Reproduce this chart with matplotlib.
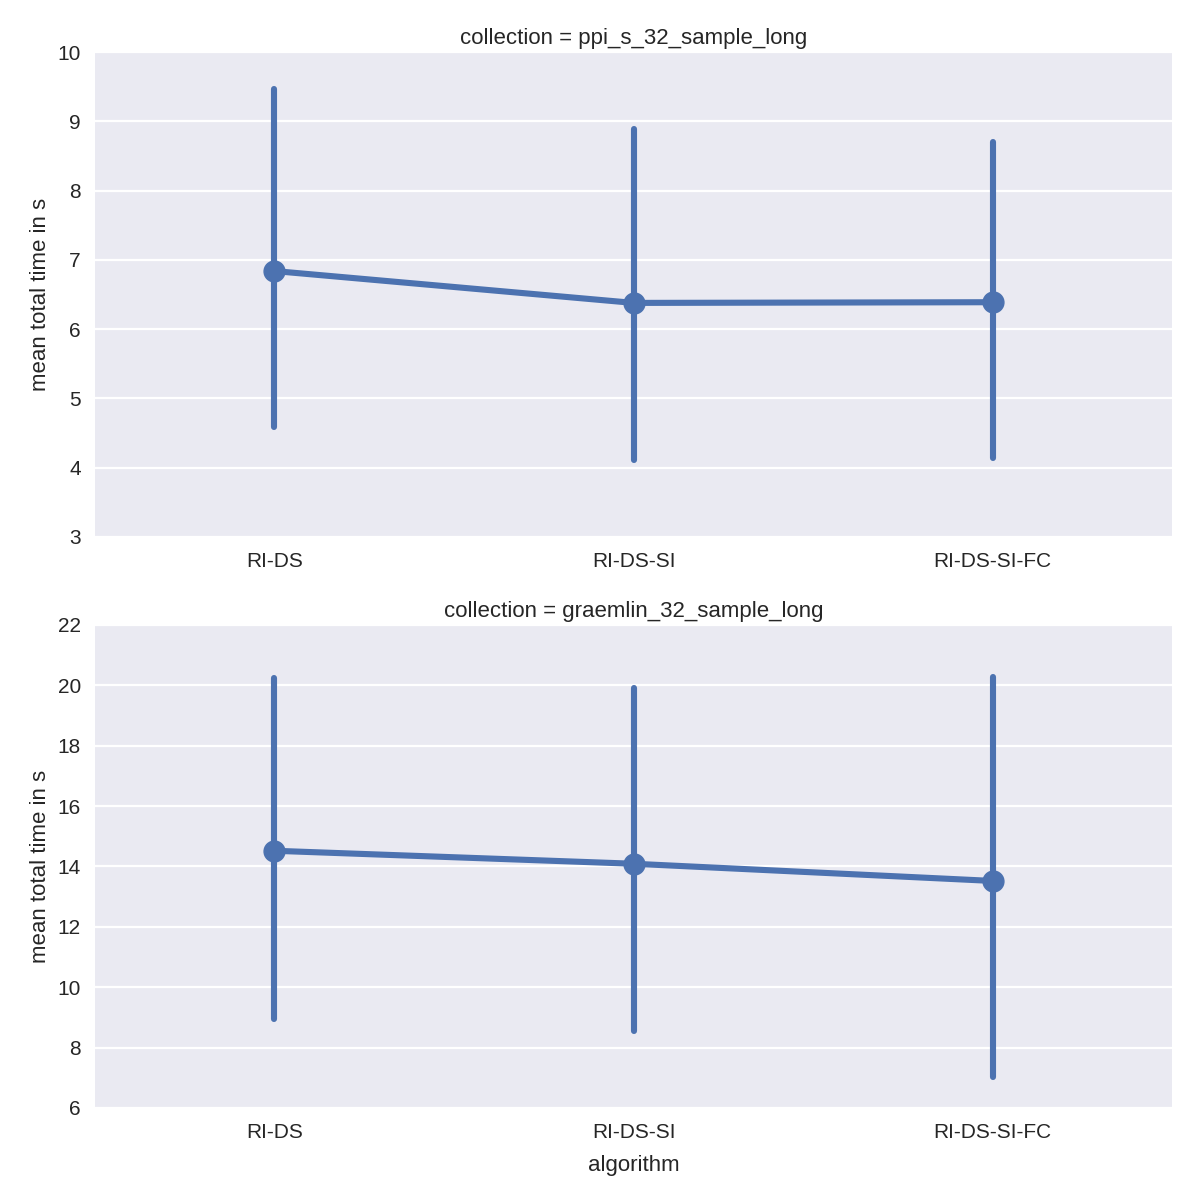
import matplotlib
matplotlib.use("Agg")
import matplotlib.pyplot as plt

algorithms = ["RI-DS", "RI-DS-SI", "RI-DS-SI-FC"]

ppi_title = "collection = ppi_s_32_sample_long"
ppi_mean = [6.84, 6.38, 6.39]
ppi_low = [4.59, 4.11, 4.14]
ppi_high = [9.47, 8.89, 8.71]
ppi_yticks = [3, 4, 5, 6, 7, 8, 9, 10]

gra_title = "collection = graemlin_32_sample_long"
gra_mean = [14.52, 14.09, 13.52]
gra_low = [8.95, 8.56, 7.03]
gra_high = [20.23, 19.91, 20.28]
gra_yticks = [6, 8, 10, 12, 14, 16, 18, 20, 22]

color = "#4C72B0"
plt.rcParams["font.family"] = ["Liberation Sans", "DejaVu Sans"]
plt.rcParams["text.color"] = "#262626"

fig = plt.figure(figsize=(12, 12), dpi=100)
ax1 = fig.add_axes([0.079, 0.5525, 0.898, 0.404])
ax2 = fig.add_axes([0.079, 0.0767, 0.898, 0.4025])

def draw(ax, title, mean, low, high, yticks, xlabel):
    ax.set_facecolor("#EAEAF2")
    for s in ax.spines.values():
        s.set_visible(False)
    ax.set_axisbelow(True)
    ax.yaxis.grid(True, color="white", linewidth=1.6)
    ax.xaxis.grid(False)
    xs = list(range(len(algorithms)))
    for x, lo, hi in zip(xs, low, high):
        ax.plot([x, x], [lo, hi], color=color, lw=4.4, solid_capstyle="round", zorder=2)
    ax.plot(xs, mean, color=color, lw=4.4, marker="o", markersize=15,
            solid_capstyle="round", zorder=3)
    ax.set_xlim(-0.5, len(algorithms) - 0.5)
    ax.set_ylim(yticks[0], yticks[-1])
    ax.set_yticks(yticks)
    ax.set_xticks(xs)
    ax.set_xticklabels(algorithms)
    ax.tick_params(axis="both", length=0, labelsize=15, colors="#262626")
    ax.tick_params(axis="y", pad=10)
    ax.tick_params(axis="x", pad=11)
    ax.set_ylabel("mean total time in s", fontsize=16, labelpad=5, color="#262626")
    if xlabel:
        ax.set_xlabel(xlabel, fontsize=16, color="#262626", labelpad=9)
    ax.set_title(title, fontsize=16, color="#262626", pad=6)

draw(ax1, ppi_title, ppi_mean, ppi_low, ppi_high, ppi_yticks, None)
draw(ax2, gra_title, gra_mean, gra_low, gra_high, gra_yticks, "algorithm")

fig.savefig("out.png", dpi=100, facecolor="white")
